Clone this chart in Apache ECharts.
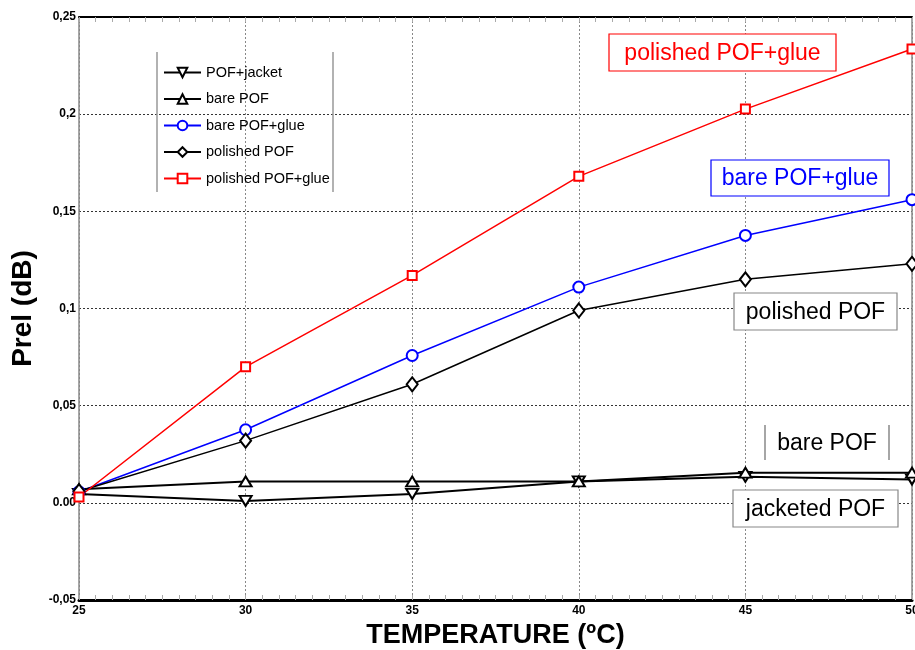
<!DOCTYPE html>
<html>
<head>
<meta charset="utf-8">
<script src="https://cdn.jsdelivr.net/npm/echarts@6/dist/echarts.min.js"></script>
<style>
  html, body { margin: 0; padding: 0; background: #fff; }
  #chart { width: 915px; height: 650px; }
</style>
</head>
<body>
<div id="chart"></div>
<script>
// temperatures (x) and Prel values (dB)
var temps = [25, 30, 35, 40, 45, 50];
var pofJacket = [0.0046, 0.001, 0.0046, 0.011, 0.0134, 0.012];
var barePof = [0.007, 0.011, 0.011, 0.011, 0.0155, 0.0155];
var barePofGlue = [0.0057, 0.0376, 0.0758, 0.111, 0.1376, 0.156];
var polishedPof = [0.006, 0.032, 0.061, 0.099, 0.115, 0.123];
var polishedPofGlue = [0.003, 0.070, 0.117, 0.168, 0.2026, 0.2335];
var yTickLabels = { '-0.05': '-0,05', '0': '0.00', '0.05': '0,05', '0.1': '0,1', '0.15': '0,15', '0.2': '0,2', '0.25': '0,25' };

function pairs(vals) {
  return temps.map(function (t, i) { return [t, vals[i]]; });
}

var chart = echarts.init(document.getElementById('chart'));
var fam = '"Liberation Sans", Arial, sans-serif';

// boxed text annotations drawn on top of the plot
function boxLabel(x, y, w, h, text, color, border, sidesOnly) {
  var els = [];
  if (sidesOnly) {
    els.push({ type: 'line', z: 60, shape: { x1: x, y1: y, x2: x, y2: y + h }, style: { stroke: border, lineWidth: 1.5 } });
    els.push({ type: 'line', z: 60, shape: { x1: x + w, y1: y, x2: x + w, y2: y + h }, style: { stroke: border, lineWidth: 1.5 } });
  } else {
    els.push({ type: 'rect', z: 60, shape: { x: x, y: y, width: w, height: h }, style: { fill: '#fff', stroke: border, lineWidth: 1.2 } });
  }
  els.push({
    type: 'text', z: 61, x: x + w / 2, y: y + h / 2 + 1,
    style: { text: text, fill: color, font: '23px ' + fam, align: 'center', verticalAlign: 'middle' }
  });
  return els;
}

chart.setOption({
  animation: false,
  backgroundColor: '#fff',
  grid: { left: 79, right: 3, top: 17, bottom: 50, outerBoundsMode: 'none' },
  legend: {
    orient: 'vertical',
    left: 158, top: 60,
    itemWidth: 37, itemHeight: 12, itemGap: 11.5,
    textStyle: { fontFamily: fam, fontSize: 14.5, color: '#000' },
    data: ['POF+jacket', 'bare POF', 'bare POF+glue', 'polished POF', 'polished POF+glue']
  },
  graphic: [].concat(
    [
      { type: 'line', z: 40, shape: { x1: 157, y1: 52, x2: 157, y2: 192 }, style: { stroke: '#999', lineWidth: 1.5 } },
      { type: 'line', z: 40, shape: { x1: 333, y1: 52, x2: 333, y2: 192 }, style: { stroke: '#999', lineWidth: 1.5 } }
    ],
    boxLabel(609, 34, 227, 37, 'polished POF+glue', '#ff0000', '#ff0000', false),
    boxLabel(711, 160, 178, 36, 'bare POF+glue', '#0000ff', '#0000ff', false),
    boxLabel(734, 293, 163, 37, 'polished POF', '#000', '#888', false),
    boxLabel(765, 425, 124, 35, 'bare POF', '#000', '#888', true),
    boxLabel(733, 490, 165, 37, 'jacketed POF', '#000', '#888', false)
  ),
  xAxis: [{
    type: 'value', min: 25, max: 50, interval: 5,
    name: 'TEMPERATURE (ºC)', nameLocation: 'middle', nameGap: 22,
    nameTextStyle: { fontFamily: fam, fontWeight: 'bold', fontSize: 27, color: '#000' },
    axisLine: { onZero: false, lineStyle: { color: '#000', width: 3 } },
    axisTick: { inside: true, length: 5, lineStyle: { color: '#aaa' } },
    minorTick: { show: true, splitNumber: 10, length: 5, lineStyle: { color: '#aaa' } },
    axisLabel: { fontFamily: fam, fontWeight: 'bold', fontSize: 12, color: '#000', margin: 5 },
    splitLine: { show: true, lineStyle: { color: '#888', type: [2, 2] } }
  }, {
    type: 'value', min: 25, max: 50, interval: 5, position: 'top',
    axisLine: { show: true, onZero: false, lineStyle: { color: '#000', width: 2 } },
    axisTick: { inside: true, length: 5, lineStyle: { color: '#aaa' } },
    minorTick: { show: true, splitNumber: 10, length: 5, lineStyle: { color: '#aaa' } },
    axisLabel: { show: false },
    splitLine: { show: false }
  }],
  yAxis: [{
    type: 'value', min: -0.05, max: 0.25, interval: 0.05,
    name: 'Prel (dB)', nameLocation: 'middle', nameGap: 37,
    nameTextStyle: { fontFamily: fam, fontWeight: 'bold', fontSize: 28, color: '#000' },
    axisLine: { onZero: false, lineStyle: { color: '#888', width: 1.5 } },
    axisTick: { show: false },
    axisLabel: {
      fontFamily: fam, fontWeight: 'bold', fontSize: 12, color: '#000', margin: 3,
      formatter: function (v) { return yTickLabels[String(+v.toFixed(2))] || v; }
    },
    splitLine: { show: true, lineStyle: { color: '#333', type: [2, 2] } }
  }, {
    type: 'value', min: -0.05, max: 0.25, interval: 0.05, position: 'right',
    axisLine: { show: true, onZero: false, lineStyle: { color: '#888', width: 1.5 } },
    axisTick: { show: false },
    axisLabel: { show: false },
    splitLine: { show: false }
  }],
  series: [
    { name: 'POF+jacket', type: 'line', data: pairs(pofJacket), symbol: 'emptyTriangle', symbolRotate: 180, symbolSize: [12, 10],
      lineStyle: { color: '#000', width: 2 }, itemStyle: { color: '#000', borderWidth: 1.2 } },
    { name: 'bare POF', type: 'line', data: pairs(barePof), symbol: 'emptyTriangle', symbolSize: [12, 10],
      lineStyle: { color: '#000', width: 2 }, itemStyle: { color: '#000', borderWidth: 1.2 } },
    { name: 'bare POF+glue', type: 'line', data: pairs(barePofGlue), symbol: 'emptyCircle', symbolSize: 11,
      lineStyle: { color: '#0000ff', width: 1.5 }, itemStyle: { color: '#0000ff', borderWidth: 1.5 } },
    { name: 'polished POF', type: 'line', data: pairs(polishedPof), symbol: 'emptyDiamond', symbolSize: [11, 14],
      lineStyle: { color: '#000', width: 1.5 }, itemStyle: { color: '#000', borderWidth: 1.2 } },
    { name: 'polished POF+glue', type: 'line', data: pairs(polishedPofGlue), symbol: 'emptyRect', symbolSize: 9,
      lineStyle: { color: '#ff0000', width: 1.5 }, itemStyle: { color: '#ff0000', borderWidth: 1.5 } }
  ]
});
</script>
</body>
</html>
